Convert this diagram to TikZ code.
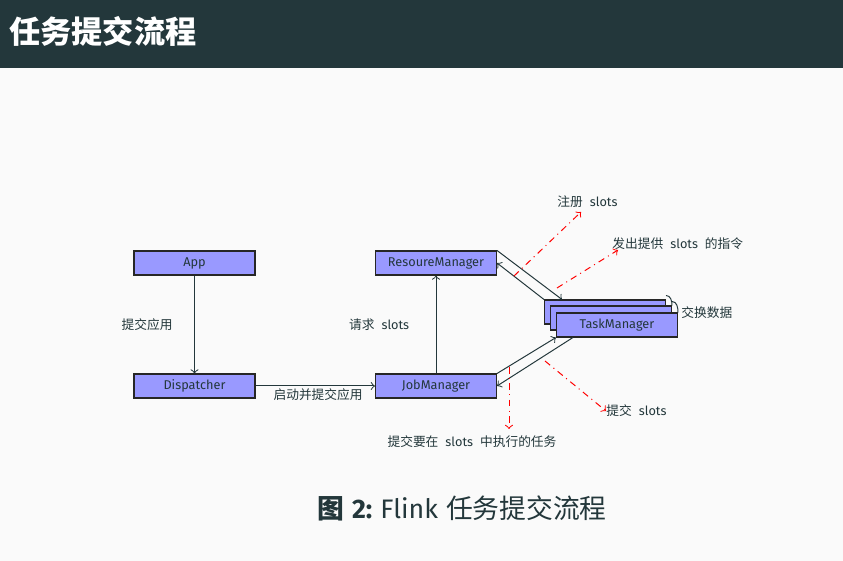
\documentclass[tikz,border=0pt]{standalone}
\usepackage{fontspec}
\setmainfont{Fira Sans}
\newfontfamily\cjk{Noto Sans CJK SC}
\usetikzlibrary{calc,arrows}
\definecolor{mdark}{HTML}{23373B}
\definecolor{mbg}{HTML}{FAFAFA}
\definecolor{boxfill}{HTML}{9999FF}
\begin{document}
\begin{tikzpicture}[x=0.4555pt,y=-0.4555pt,
  box/.style={draw=black!85,fill=boxfill,line width=0.5pt,minimum width=55.1pt,minimum height=10.9pt,inner sep=0pt,text=mdark,font=\fontsize{5.8}{7}\selectfont},
  lbl/.style={text=mdark,font=\fontsize{5.8}{7}\selectfont,inner sep=0pt},
  conn/.style={draw=mdark,line width=0.45pt,->},
  rdash/.style={draw=red,line width=0.45pt,dash dot,->}]
\fill[mbg] (0,0) rectangle (843,561);
\useasboundingbox (0,0) rectangle (843,561);
\fill[mdark] (0,0) rectangle (843,68);
\node[anchor=west,text=white,inner sep=0pt,font=\cjk\bfseries\fontsize{14.2}{16}\selectfont] (title) at (9,31) {任务提交流程};
% nodes
\node[box] (app) at (194.5,263) {App};
\node[box] (disp) at (194.5,386) {Dispatcher};
\node[box] (rm) at (436,263) {ResoureManager};
\node[box] (jm) at (436,386) {JobManager};
\node[box] (tmb) at (605,312) {};
\node[box] (tmm) at (611,318) {};
\node[box] (tm) at (617,325) {TaskManager};
% connectors
\draw[conn] (app) -- node[lbl,midway,left=9.8pt] {\cjk 提交应用} (disp);
\draw[conn] (disp) -- node[lbl,midway,below=1.2pt,xshift=1.3pt] {\cjk 启动并提交应用} (jm);
\draw[conn] (jm) -- node[lbl,midway,left=12pt] {{\cjk 请求}\hspace{0.55em}slots} (rm);
\coordinate (c1) at ($(tmb.north west)+(18,0)$);
\draw[conn] (rm.north east) -- (c1);
\draw[conn] (tmb.north west) -- (rm.east);
\draw[conn] (jm.north east) -- (tm.south west);
\coordinate (c4) at ($(tm.south west)+(17,0)$);
\draw[conn] (c4) -- (jm.east);
% loop arcs
\coordinate (l0) at ($(tmb.north east)+(0,-4)$);
\coordinate (l1) at ($(tmm.north east)+(0,-4)$);
\draw[draw=mdark,line width=0.45pt] (l0) to[out=0,in=90] (tmm.north east);
\draw[draw=mdark,line width=0.45pt] (l1) to[out=0,in=90] (tm.north east);
\node[lbl,anchor=west] (swap) at (681,313) {\cjk 交换数据};
% red dash-dot arrows
\coordinate (r1s) at (514,276);
\coordinate (r1e) at (581,212);
\draw[rdash] (r1s) -- (r1e);
\node[lbl,anchor=west] (reg) at (557,202) {{\cjk 注册}\hspace{0.55em}slots};
\coordinate (r2s) at (557,288);
\coordinate (r2e) at (618,250);
\draw[rdash] (r2s) -- (r2e);
\node[lbl,anchor=west] (offer) at (612,244) {{\cjk 发出提供}\hspace{0.55em}slots\hspace{0.55em}{\cjk 的指令}};
\coordinate (r3s) at (545,361);
\coordinate (r3e) at (606,411);
\draw[rdash] (r3s) -- (r3e);
\node[lbl,anchor=west] (sub) at (606,411) {{\cjk 提交}\hspace{0.55em}slots};
\coordinate (r4s) at (509,367);
\coordinate (r4e) at (509,429);
\draw[rdash] (r4s) -- (r4e);
\node[lbl] (task) at (472,442) {{\cjk 提交要在}\hspace{0.55em}slots\hspace{0.55em}{\cjk 中执行的任务}};
% caption
\node[text=mdark,inner sep=0pt,font=\fontsize{12.2}{14}\selectfont] (cap) at (462,508) {{\cjk\bfseries 图}\hspace{0.3em}\textbf{2:}\hspace{0.3em}Flink\hspace{0.3em}{\cjk 任务提交流程}};
\end{tikzpicture}
\end{document}
